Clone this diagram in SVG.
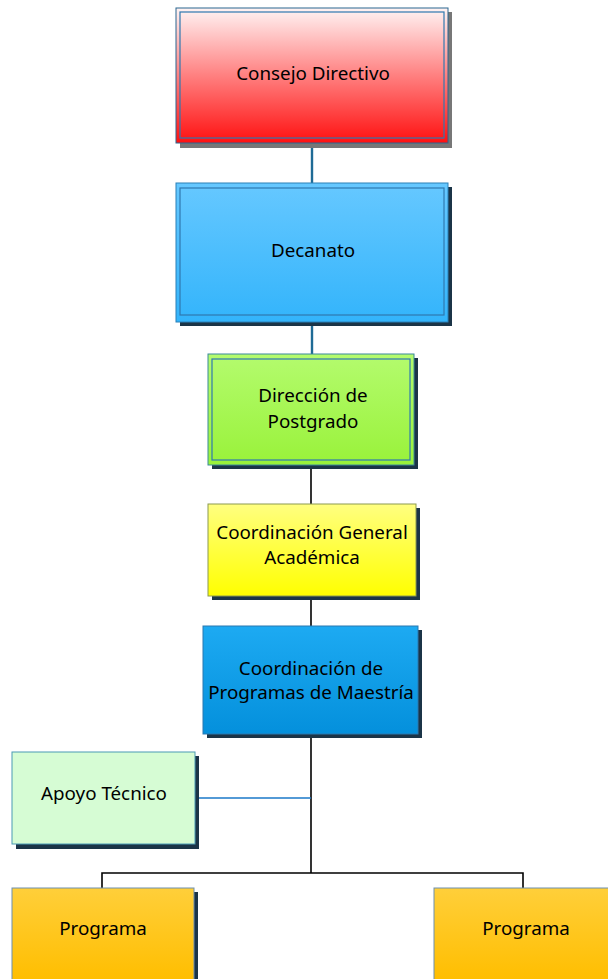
<svg xmlns="http://www.w3.org/2000/svg" width="608" height="979" viewBox="0 0 608 979">
<defs>
<linearGradient id="gRed" x1="0" y1="0" x2="0" y2="1"><stop offset="0" stop-color="#fff4f4"/><stop offset="0.5" stop-color="#ff8080"/><stop offset="1" stop-color="#ff1010"/></linearGradient>
<linearGradient id="gBlue" x1="0" y1="0" x2="0" y2="1"><stop offset="0" stop-color="#66c8ff"/><stop offset="1" stop-color="#33b4fb"/></linearGradient>
<linearGradient id="gGreen" x1="0" y1="0" x2="0" y2="1"><stop offset="0" stop-color="#b4fb6e"/><stop offset="1" stop-color="#99f23a"/></linearGradient>
<linearGradient id="gYellow" x1="0" y1="0" x2="0" y2="1"><stop offset="0" stop-color="#ffff80"/><stop offset="1" stop-color="#ffff00"/></linearGradient>
<linearGradient id="gDeep" x1="0" y1="0" x2="0" y2="1"><stop offset="0" stop-color="#1daaf2"/><stop offset="1" stop-color="#0490dc"/></linearGradient>
<linearGradient id="gOrange" x1="0" y1="0" x2="0" y2="1"><stop offset="0" stop-color="#ffcf3a"/><stop offset="1" stop-color="#ffbe00"/></linearGradient>
</defs>
<style>
text{font-family:"Noto Sans","Liberation Sans",sans-serif;font-size:18.8px;fill:#000;text-anchor:middle}
.sh{fill:#1b3447}
.shg{fill:#777}
.inner{fill:none;stroke:#2f78b0;stroke-width:1.2}
.conn{fill:none;stroke:#000;stroke-width:1.6}
.connb{fill:none;stroke:#1f6b96;stroke-width:2.4}
</style>
<g id="connectors">
<line class="connb" x1="312" y1="143" x2="312" y2="183"/>
<line class="connb" x1="312" y1="322" x2="312" y2="354"/>
<line class="conn" x1="311" y1="465" x2="311" y2="504"/>
<line class="conn" x1="311" y1="596" x2="311" y2="626"/>
<line class="conn" x1="311" y1="734" x2="311" y2="873"/>
<line x1="195" y1="798" x2="311" y2="798" stroke="#1a78c8" stroke-width="1.6"/>
<polyline class="conn" points="102,888 102,873 523,873 523,888"/>
</g>
<g id="consejo">
<rect class="shg" x="180" y="12" width="272" height="136"/>
<rect x="176" y="8" width="272" height="135" fill="url(#gRed)" stroke="#2a6690" stroke-width="1"/>
<rect class="inner" x="180" y="12" width="264" height="126"/>
<text x="313" y="80">Consejo Directivo</text>
</g>
<g id="decanato">
<rect class="sh" x="180" y="187" width="272" height="139"/>
<rect x="176" y="183" width="272" height="139" fill="url(#gBlue)" stroke="#2a80b8" stroke-width="1"/>
<rect class="inner" x="180" y="188" width="264" height="127"/>
<text x="313" y="257">Decanato</text>
</g>
<g id="direccion">
<rect class="sh" x="212" y="358" width="206" height="111"/>
<rect x="208" y="354" width="206" height="111" fill="url(#gGreen)" stroke="#3a8a9a" stroke-width="1"/>
<rect class="inner" x="212" y="359" width="198" height="101"/>
<text x="313" y="402">Dirección de</text>
<text x="313" y="428">Postgrado</text>
</g>
<g id="coordgeneral">
<rect class="sh" x="212" y="508" width="208" height="92"/>
<rect x="208" y="504" width="208" height="92" fill="url(#gYellow)" stroke="#8c9a50" stroke-width="1"/>
<text x="312" y="539">Coordinación General</text>
<text x="312" y="564">Académica</text>
</g>
<g id="coordprogramas">
<rect class="sh" x="207" y="630" width="215" height="108"/>
<rect x="203" y="626" width="215" height="108" fill="url(#gDeep)" stroke="#2a78b0" stroke-width="1"/>
<text x="311" y="675">Coordinación de</text>
<text x="311" y="699">Programas de Maestría</text>
</g>
<g id="apoyo">
<rect class="sh" x="16" y="756" width="183" height="93"/>
<rect x="12" y="752" width="183" height="92" fill="#d6fcd4" stroke="#4a9ab4" stroke-width="1"/>
<text x="104" y="800">Apoyo Técnico</text>
</g>
<g id="programa1">
<rect class="sh" x="16" y="892" width="182" height="90"/>
<rect x="12" y="888" width="182" height="92" fill="url(#gOrange)" stroke="#6f8fae" stroke-width="1"/>
<text x="103" y="935">Programa</text>
</g>
<g id="programa2">
<rect x="434" y="888" width="180" height="92" fill="url(#gOrange)" stroke="#6f8fae" stroke-width="1"/>
<text x="526" y="935">Programa</text>
</g>
</svg>
